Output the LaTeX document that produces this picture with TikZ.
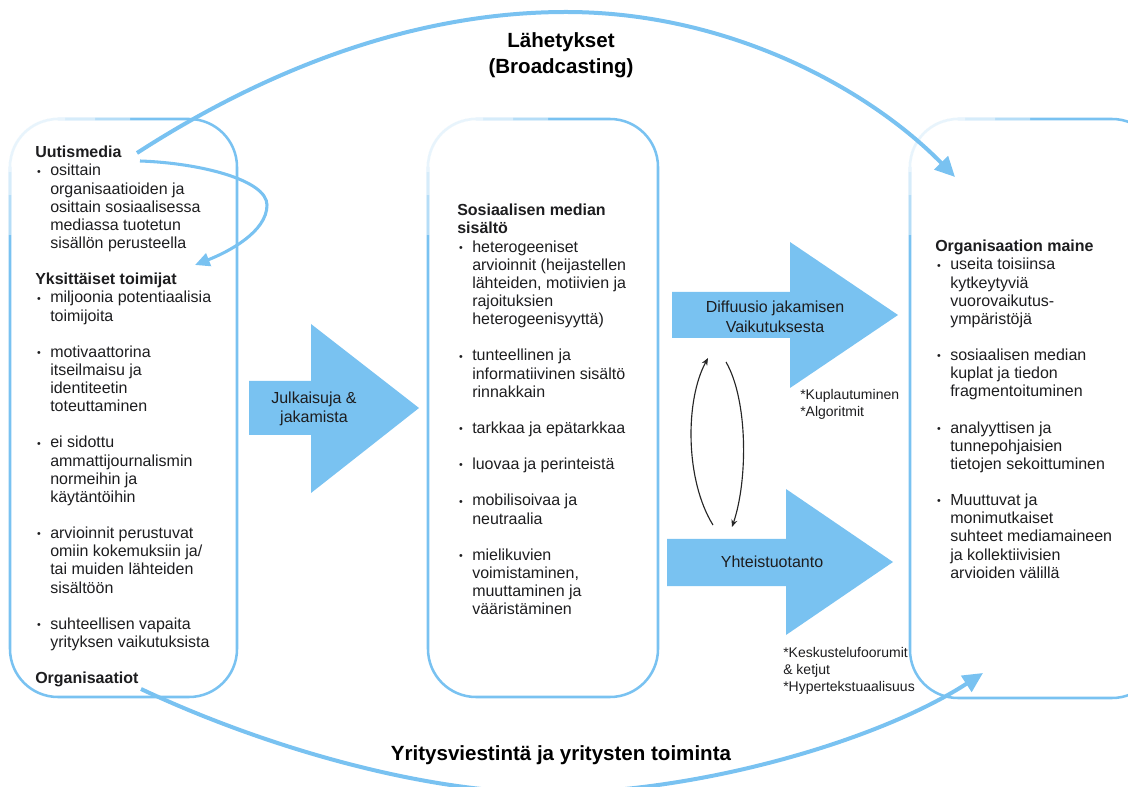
\documentclass[tikz,border=0pt]{standalone}
\usepackage{fontspec}
\setmainfont{Liberation Sans}
\usetikzlibrary{arrows.meta}
\definecolor{sky}{HTML}{79C2F1}
\definecolor{ink}{HTML}{1D1D1F}
\newcommand{\bu}{\makebox[11.25pt][l]{\hspace{1.4pt}{\fontsize{8}{8}\selectfont\raisebox{0.6pt}{•}}}}
\newcommand{\ind}{\hspace*{11.25pt}}
\tikzset{
  panel/.style={draw=sky, line width=1.9pt, rounded corners=36pt, inner sep=0pt},
  fade/.style={draw=white, line width=2.6pt, opacity=0.45},
  body/.style={anchor=north west, align=left, inner sep=0pt, text=ink, font=\fontsize{12}{13.6}\selectfont},
  arrowtext/.style={align=center, inner sep=0pt, text=ink, font=\fontsize{12}{14}\selectfont},
  note/.style={anchor=north west, align=left, inner sep=0pt, text=ink, font=\fontsize{10.5}{12.9}\selectfont},
  title/.style={align=center, inner sep=0pt, text=black, font=\bfseries\fontsize{15.4}{19.5}\selectfont},
  bigarc/.style={draw=sky, line width=3pt, -{Triangle[length=15pt,width=14pt]}},
  looparc/.style={draw=sky, line width=2.3pt, -{Triangle[length=11pt,width=10pt]}},
  thinarrow/.style={draw=black!85, line width=0.85pt, -{Stealth[length=5.5pt,width=4.5pt]}},
}
\begin{document}
\begin{tikzpicture}[x=0.75pt,y=-0.75pt]
\useasboundingbox (0,0) rectangle (1128,787);
\clip (0,0) rectangle (1128,787);

% panels
\node[panel, minimum width=170.25pt, minimum height=433.5pt] (leftpanel) at (123.5,408) {};
\node[panel, minimum width=172.5pt, minimum height=433.5pt] (midpanel) at (543,408) {};
\node[panel, minimum width=187.5pt, minimum height=434.25pt] (rightpanel) at (1035,408.5) {};
\foreach \xx in {10,428,910}{
  \draw[fade] (\xx,235) -- (\xx,167) .. controls (\xx,140.5) and (\xx+21.5,119) .. (\xx+48,119) -- (\xx+120,119);
  \draw[fade] (\xx,195) -- (\xx,167) .. controls (\xx,140.5) and (\xx+21.5,119) .. (\xx+48,119) -- (\xx+85,119);
  \draw[fade] (\xx,172) -- (\xx,167) .. controls (\xx,140.5) and (\xx+21.5,119) .. (\xx+48,119) -- (\xx+55,119);
}

% block arrows
\fill[sky] (249,381) -- (311,381) -- (311,324) -- (419,408) -- (311,493) -- (311,435) -- (249,435) -- cycle;
\fill[sky] (672,292) -- (790,292) -- (790,242) -- (898,315) -- (790,388) -- (790,338) -- (672,338) -- cycle;
\fill[sky] (667,539) -- (786,539) -- (786,489) -- (893,562) -- (786,635) -- (786,586) -- (667,586) -- cycle;
\node[arrowtext] (publish) at (314,409) {Julkaisuja \&\\jakamista};
\node[arrowtext, font=\fontsize{12}{15}\selectfont] (diffusion) at (775,317) {Diffuusio jakamisen\\Vaikutuksesta};
\node[arrowtext] (coprod) at (772,562) {Yhteistuotanto};

% notes
\node[note] (bubble) at (800,389) {*Kuplautuminen\\*Algoritmit};
\node[note] (forum) at (783,647) {*Keskustelufoorumit\\\&\ ketjut\\*Hypertekstuaalisuus};

% left text
\node[body] (lefttext) at (35,146) {\textbf{Uutismedia}\\
\bu osittain\\
\ind organisaatioiden ja\\
\ind osittain sosiaalisessa\\
\ind mediassa tuotetun\\
\ind sisällön perusteella\\[13.6pt]
\textbf{Yksittäiset toimijat}\\
\bu miljoonia potentiaalisia\\
\ind toimijoita\\[13.6pt]
\bu motivaattorina\\
\ind itseilmaisu ja\\
\ind identiteetin\\
\ind toteuttaminen\\[13.6pt]
\bu ei sidottu\\
\ind ammattijournalismin\\
\ind normeihin ja\\
\ind käytäntöihin\\[13.6pt]
\bu arvioinnit perustuvat\\
\ind omiin kokemuksiin ja/\\
\ind tai muiden lähteiden\\
\ind sisältöön\\[13.6pt]
\bu suhteellisen vapaita\\
\ind yrityksen vaikutuksista\\[13.6pt]
\textbf{Organisaatiot}};

% middle text
\node[body] (midtext) at (457,204) {\textbf{Sosiaalisen median}\\
\textbf{sisältö}\\
\bu heterogeeniset\\
\ind arvioinnit (heijastellen\\
\ind lähteiden, motiivien ja\\
\ind rajoituksien\\
\ind heterogeenisyyttä)\\[13.6pt]
\bu tunteellinen ja\\
\ind informatiivinen sisältö\\
\ind rinnakkain\\[13.6pt]
\bu tarkkaa ja epätarkkaa\\[13.6pt]
\bu luovaa ja perinteistä\\[13.6pt]
\bu mobilisoivaa ja\\
\ind neutraalia\\[13.6pt]
\bu mielikuvien\\
\ind voimistaminen,\\
\ind muuttaminen ja\\
\ind vääristäminen};

% right text
\node[body] (righttext) at (935,240) {\textbf{Organisaation maine}\\
\bu useita toisiinsa\\
\ind kytkeytyviä\\
\ind vuorovaikutus-\\
\ind ympäristöjä\\[13.6pt]
\bu sosiaalisen median\\
\ind kuplat ja tiedon\\
\ind fragmentoituminen\\[13.6pt]
\bu analyyttisen ja\\
\ind tunnepohjaisien\\
\ind tietojen sekoittuminen\\[13.6pt]
\bu Muuttuvat ja\\
\ind monimutkaiset\\
\ind suhteet mediamaineen\\
\ind ja kollektiivisien\\
\ind arvioiden välillä};

% titles
\node[title] (broadcast) at (561,55) {Lähetykset\\(Broadcasting)};
\node[title] (corporate) at (561,755) {Yritysviestintä ja yritysten toiminta};

% thin feedback arrows
\coordinate (fbUpS) at (713,525);
\coordinate (fbUpE) at (708,358);
\coordinate (fbDnS) at (726,362);
\coordinate (fbDnE) at (732,527);
\draw[thinarrow] (fbUpS) .. controls (685,480) and (685,400) .. (fbUpE);
\draw[thinarrow] (fbDnS) .. controls (748,400) and (748,480) .. (fbDnE);

% big arcs
\coordinate (bcS) at (137,153);
\coordinate (bcE) at (955,177);
\coordinate (orgS) at (141,689);
\coordinate (orgE) at (983,673);
\coordinate (loopS) at (140,161);
\coordinate (loopE) at (195,265);
\draw[bigarc] (bcS) .. controls (250,80) and (400,12) .. (566,12) .. controls (730,12) and (870,90) .. (bcE);
\draw[bigarc] (orgS) .. controls (260,745) and (420,793) .. (550,793) .. controls (700,793) and (880,740) .. (orgE);
\draw[looparc] (loopS) .. controls (200,163) and (267,180) .. (267,205) .. controls (267,232) and (228,252) .. (loopE);
\end{tikzpicture}
\end{document}
